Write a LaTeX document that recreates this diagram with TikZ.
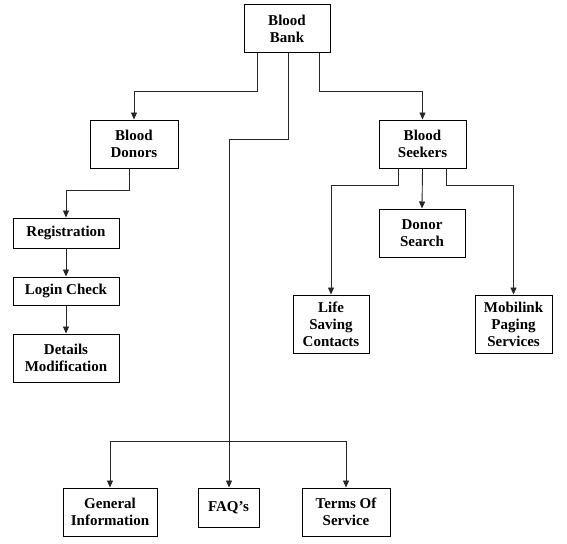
\documentclass[tikz,border=0pt]{standalone}
\usepackage{fontspec}
\setmainfont{Liberation Serif}
\usetikzlibrary{arrows.meta}
\begin{document}
\begin{tikzpicture}[x=1pt,y=-1pt,
  box/.style={draw=black,line width=1pt,fill=white,inner sep=1pt,align=center,
    font=\bfseries\fontsize{15}{17}\selectfont},
  link/.style={line width=0.9pt,draw=black!85},
  arr/.style={link,-{Triangle[length=7pt,width=6pt]}}]
\fill[white] (0,0) rectangle (567,543);
\useasboundingbox (0,0) rectangle (567,543);

% boxes
\node[box,minimum width=86pt,minimum height=48pt] (bank) at (287,29) {Blood\\Bank};
\node[box,minimum width=88pt,minimum height=48pt] (donors) at (134,144) {Blood\\Donors};
\node[box,minimum width=87pt,minimum height=48pt] (seekers) at (422.5,144) {Blood\\Seekers};
\node[box,minimum width=106pt,minimum height=30pt] (reg) at (66,233) {Registration};
\node[box,minimum width=106pt,minimum height=28pt] (login) at (66,291) {Login Check};
\node[box,minimum width=106pt,minimum height=48pt] (details) at (66,358) {Details\\Modification};
\node[box,minimum width=86pt,minimum height=48pt] (dsearch) at (422,233) {Donor\\Search};
\node[box,minimum width=76pt,minimum height=58pt] (life) at (331,324) {Life\\Saving\\Contacts};
\node[box,minimum width=77pt,minimum height=58pt] (mobi) at (513.5,324) {Mobilink\\Paging\\Services};
\node[box,minimum width=94pt,minimum height=48pt] (gen) at (110,512) {General\\Information};
\node[box,minimum width=61pt,minimum height=39pt] (faq) at (228.5,507.5) {FAQ’s};
\node[box,minimum width=88pt,minimum height=48pt] (terms) at (346,512) {Terms Of\\Service};

% junction points
\coordinate (bend) at (229,139);
\coordinate (hub) at (229,441);

% top level
\draw[arr] ([xshift=-30pt]bank.south) -- ++(0,38) -| (donors.north);
\draw[arr] ([xshift=32pt]bank.south) -- ++(0,38) -| (seekers.north);
\draw[link] ([xshift=1pt]bank.south) |- (bend) -- (hub);
\draw[arr] (hub) -- (hub |- faq.north);
\draw[arr] (hub) -| (gen.north);
\draw[arr] (hub) -| (terms.north);

% donors branch
\draw[arr] ([xshift=-5pt]donors.south) -- ++(0,22) -| (reg.north);
\draw[arr] (reg) -- (login);
\draw[arr] (login) -- (details);

% seekers branch
\draw[arr] (seekers.south) -- (dsearch.north);
\draw[arr] ([xshift=-24pt]seekers.south) -- ++(0,17) -| (life.north);
\draw[arr] ([xshift=24pt]seekers.south) -- ++(0,17) -| (mobi.north);
\end{tikzpicture}
\end{document}
